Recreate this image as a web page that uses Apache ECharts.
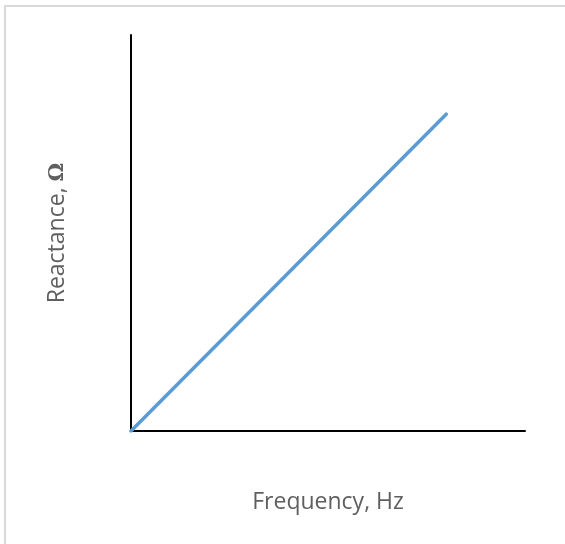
<!DOCTYPE html>
<html>
<head>
<meta charset="utf-8">
<script src="https://cdn.jsdelivr.net/npm/echarts@6/dist/echarts.min.js"></script>
<style>
html,body{margin:0;padding:0;background:#fff;}
#frame{position:absolute;left:4px;top:5px;width:600px;height:600px;border-left:2px solid #d9d9d9;border-top:2px solid #d9d9d9;}
#chart{position:absolute;left:0;top:0;width:565px;height:544px;}
</style>
</head>
<body>
<div id="frame"></div>
<div id="chart"></div>
<script>
var xName = 'Frequency, Hz';
var yName = 'Reactance, ';
var frequency = [0, 0.8];
var reactance = [0, 0.8];

var chart = echarts.init(document.getElementById('chart'));
var pts = frequency.map(function (f, i) { return [f, reactance[i]]; });
chart.setOption({
  backgroundColor: 'transparent',
  animation: false,
  grid: { left: 131, top: 35, right: 40, bottom: 113 },
  xAxis: {
    type: 'value', min: 0, max: 1,
    name: xName, nameLocation: 'middle', nameGap: 60,
    nameTextStyle: { color: '#5f5f5f', fontSize: 23, fontFamily: 'Open Sans' },
    axisLine: { show: true, onZero: false, lineStyle: { color: '#000', width: 2 } },
    axisTick: { show: false }, axisLabel: { show: false }, splitLine: { show: false }
  },
  yAxis: {
    type: 'value', min: 0, max: 1,
    name: '{a|' + yName + '}{b|Ω}', nameLocation: 'middle', nameGap: 62,
    nameTextStyle: {
      color: '#5f5f5f', fontSize: 23, fontFamily: 'Open Sans',
      rich: {
        a: { color: '#5f5f5f', fontSize: 23, fontFamily: 'Open Sans' },
        b: { color: '#5f5f5f', fontSize: 21, fontFamily: 'DejaVu Serif', fontWeight: 'bold' }
      }
    },
    axisLine: { show: true, onZero: false, lineStyle: { color: '#000', width: 2 } },
    axisTick: { show: false }, axisLabel: { show: false }, splitLine: { show: false }
  },
  series: [{
    type: 'line', data: pts, symbol: 'none',
    lineStyle: { color: '#5b9bd5', width: 3.5, cap: 'round' }
  }]
});
</script>
</body>
</html>
